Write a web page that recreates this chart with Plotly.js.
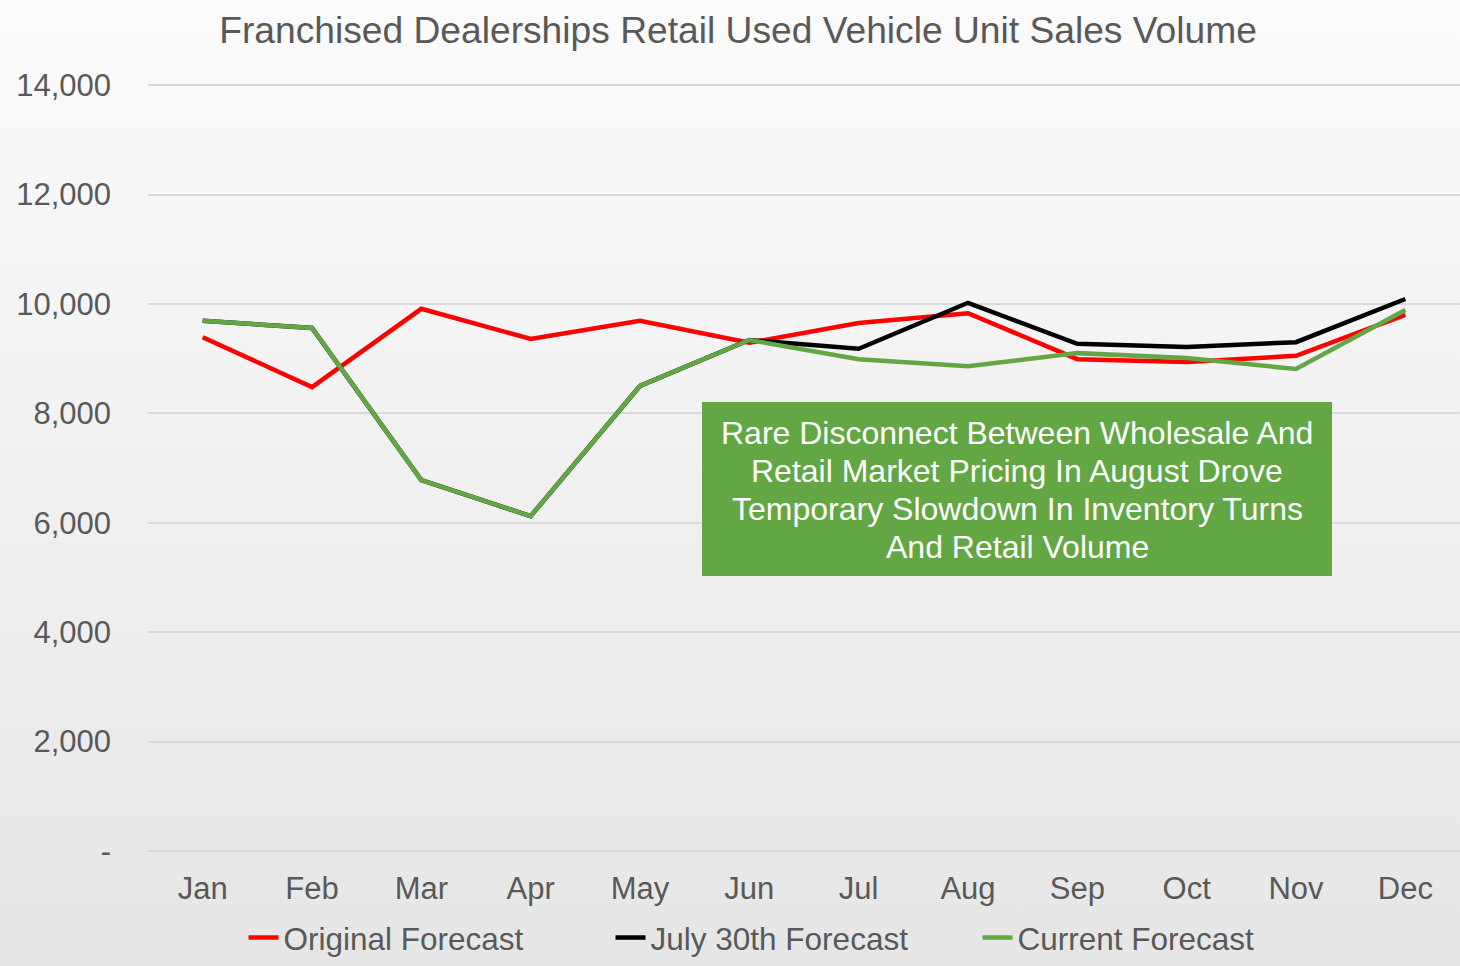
<!DOCTYPE html>
<html>
<head>
<meta charset="utf-8">
<script src="https://cdn.plot.ly/plotly-3.0.1.min.js"></script>
<style>
  html, body { margin:0; padding:0; }
  body { width:1460px; height:966px; background: linear-gradient(to bottom, #fbfbfb 0%, #e6e6e6 100%); }
  #chart { width:1460px; height:966px; }
</style>
</head>
<body>
<div id="chart"></div>
<script>
const months = ["Jan","Feb","Mar","Apr","May","Jun","Jul","Aug","Sep","Oct","Nov","Dec"];
const originalForecast = [9390, 8480, 9910, 9360, 9690, 9290, 9650, 9830, 8990, 8940, 9050, 9800];
const july30Forecast   = [9690, 9560, 6780, 6120, 8500, 9340, 9180, 10020, 9270, 9210, 9300, 10090];
const currentForecast  = [9690, 9560, 6780, 6120, 8500, 9340, 8990, 8860, 9100, 9010, 8810, 9890];
const yTickVals = [0, 2000, 4000, 6000, 8000, 10000, 12000, 14000];
const yTickText = ["-", "2,000", "4,000", "6,000", "8,000", "10,000", "12,000", "14,000"];
const noteLines = ["Rare Disconnect Between Wholesale And",
                   "Retail Market Pricing In August Drove",
                   "Temporary Slowdown In Inventory Turns",
                   "And Retail Volume"];

const font = "Liberation Sans, Arial, sans-serif";
const grey = "#595959";
const green = "#62a744";

// plot-area geometry in pixels (for placing the note box in paper coords)
const L = 148, W = 1312, T = 84, H = 768;
const px = x => (x - L) / W;
const py = y => (T + H - y) / H;

const traces = [
  {x: months, y: originalForecast, name: "Original Forecast", type: "scatter", mode: "lines",
   line: {color: "#ff0000", width: 4.5}},
  {x: months, y: july30Forecast, name: "July 30th Forecast", type: "scatter", mode: "lines",
   line: {color: "#000000", width: 4.5}},
  {x: months, y: currentForecast, name: "Current Forecast", type: "scatter", mode: "lines",
   line: {color: green, width: 4.5}}
];

const noteAnnotations = noteLines.map((t, i) => ({
  text: t, xref: "paper", yref: "paper", x: px(1017), y: py(433 + 38 * i),
  xanchor: "center", yanchor: "middle", showarrow: false,
  font: {family: font, size: 32, color: "#ffffff"}
}));

const layout = {
  width: 1460, height: 966,
  paper_bgcolor: "rgba(0,0,0,0)",
  plot_bgcolor: "rgba(0,0,0,0)",
  margin: {l: L, r: 1460 - L - W, t: T, b: 966 - T - H, autoexpand: false},
  font: {family: font, color: grey, size: 30},
  title: {text: "Franchised Dealerships Retail Used Vehicle Unit Sales Volume",
          font: {family: font, size: 37.2, color: grey}, x: 738 / 1460, xanchor: "center", y: 0.969, yanchor: "middle"},
  xaxis: {type: "category", range: [-0.5, 11.5], showgrid: false, showline: false, zeroline: false, automargin: false,
          ticks: "", ticklabelstandoff: 15, tickfont: {size: 31, color: grey}, fixedrange: true},
  yaxis: {range: [-20, 14020], tickvals: yTickVals, ticktext: yTickText, showgrid: true, automargin: false,
          gridcolor: "#d9d9d9", gridwidth: 2, zeroline: false, showline: false, ticks: "",
          ticklabelstandoff: 36, tickfont: {size: 31, color: grey}, fixedrange: true},
  legend: {orientation: "h", x: 0.4924, xanchor: "center", y: -0.1465, yanchor: "bottom",
           font: {size: 31.5, color: grey}, entrywidth: 322, entrywidthmode: "pixels",
           tracegroupgap: 0, bgcolor: "rgba(0,0,0,0)"},
  showlegend: true,
  shapes: [{type: "rect", xref: "paper", yref: "paper", x0: px(702), x1: px(1332), y0: py(576), y1: py(402),
            fillcolor: green, line: {width: 0}, layer: "above"}],
  annotations: noteAnnotations
};

Plotly.newPlot("chart", traces, layout, {displayModeBar: false, staticPlot: true});
</script>
</body>
</html>
